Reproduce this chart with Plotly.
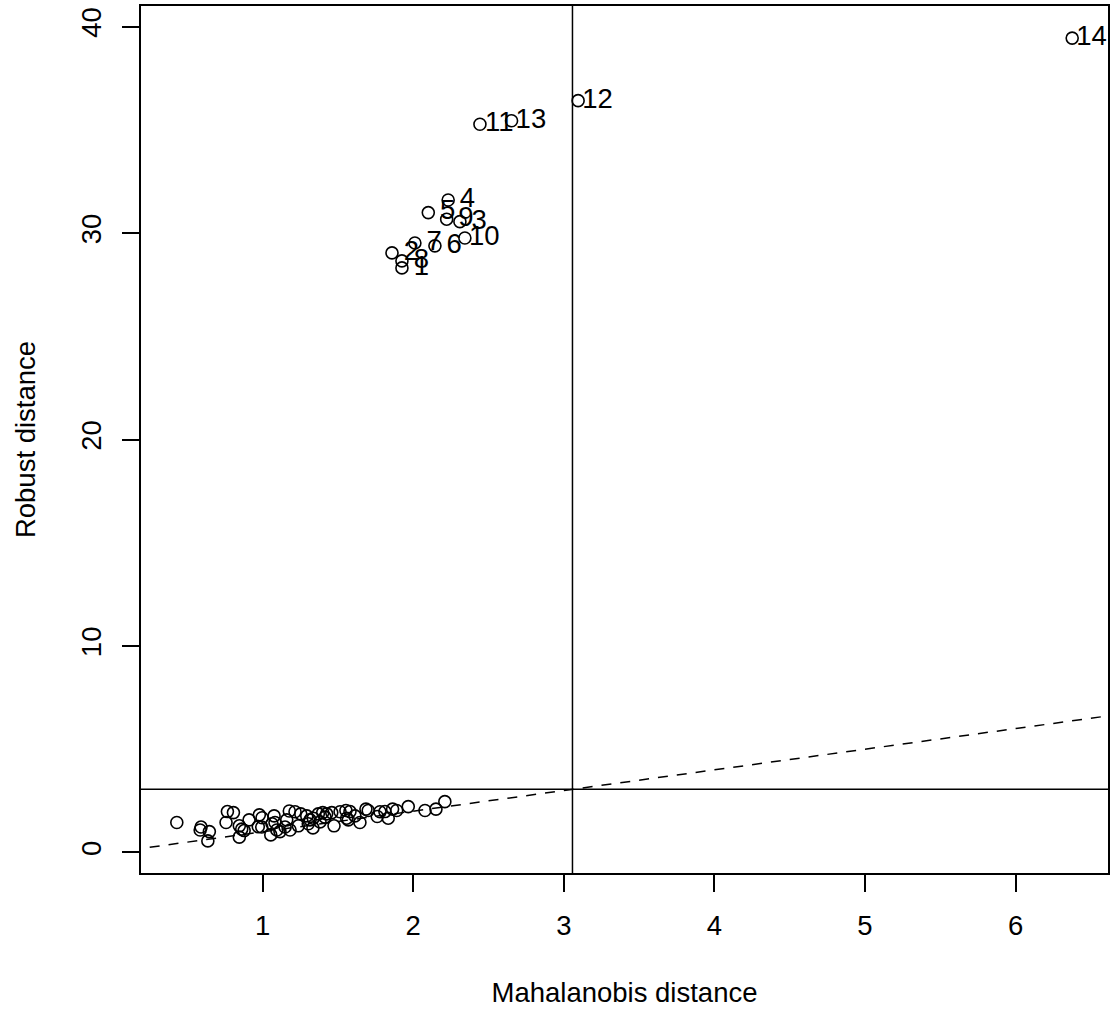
import plotly.graph_objects as go

# Mahalanobis (x) and robust (y) distances, observations 1..14 (outliers, labelled)
md_out = [1.925, 1.859, 2.310, 2.232, 2.100, 2.144, 2.011, 1.925, 2.222, 2.343,
          2.443, 3.095, 2.653, 6.376]
rd_out = [28.31, 29.04, 30.55, 31.60, 30.99, 29.38, 29.52, 28.65, 30.67, 29.76,
          35.27, 36.41, 35.44, 39.44]
labels_out = [str(i) for i in range(1, 15)]

# remaining regular observations
md_reg = [0.430, 0.591, 0.585, 0.646, 0.636, 0.766, 0.806, 0.757, 0.845, 0.861,
          0.877, 0.845, 0.978, 0.971, 0.994, 1.054, 1.076, 1.082, 1.094, 1.115,
          1.149, 1.177, 1.160, 1.237, 1.253, 1.293, 1.315, 1.303, 1.336, 1.370,
          1.399, 1.425, 1.459, 1.414, 1.474, 1.553, 1.580, 1.558, 1.569, 1.646,
          1.686, 1.701, 1.761, 1.812, 1.834, 1.863, 1.890, 1.967, 2.078, 2.151,
          2.210, 1.215, 1.381, 1.514, 1.613, 0.996, 0.910, 1.062, 1.334, 1.182,
          1.779]
rd_reg = [1.45, 1.23, 1.09, 1.01, 0.56, 1.98, 1.93, 1.45, 1.29, 1.13,
          1.06, 0.74, 1.82, 1.25, 1.23, 0.85, 1.77, 1.45, 1.09, 1.01,
          1.23, 2.01, 1.58, 1.29, 1.87, 1.77, 1.58, 1.39, 1.66, 1.87,
          1.93, 1.87, 1.93, 1.71, 1.29, 2.03, 1.98, 1.66, 1.58, 1.45,
          2.10, 2.03, 1.74, 1.98, 1.66, 2.10, 2.03, 2.22, 2.03, 2.10,
          2.46, 1.97, 1.48, 1.97, 1.77, 1.68, 1.58, 1.39, 1.19, 1.09,
          1.97]

cutoff = 3.0575  # sqrt(qchisq(0.975, 3))

x_ticks = [1, 2, 3, 4, 5, 6]
y_ticks = [0, 10, 20, 30, 40]

md_all = md_out + md_reg
rd_all = rd_out + rd_reg

# R-style axis extension (4% each side)
xr = max(md_all) - min(md_all)
yr = max(rd_all) - min(rd_all)
x_range = [min(md_all) - 0.04 * xr, max(md_all) + 0.04 * xr]
y_range = [min(rd_all) - 0.04 * yr, max(rd_all) + 0.04 * yr]
label_dx = (x_range[1] - x_range[0]) / 50

FONT = "Liberation Sans, Arial, Helvetica, sans-serif"
FS = 27.5

fig = go.Figure()

# dashed identity line
fig.add_trace(go.Scatter(x=[0, 7], y=[0, 7], mode="lines",
                         line=dict(color="black", width=1.5, dash="10px,9px"),
                         hoverinfo="skip", showlegend=False))

fig.add_trace(go.Scatter(x=md_all, y=rd_all, mode="markers",
                         marker=dict(symbol="circle-open", size=12, color="black",
                                     line=dict(color="black", width=1.6)),
                         showlegend=False))

fig.add_trace(go.Scatter(x=[m + label_dx for m in md_out], y=rd_out, mode="text",
                         text=labels_out, textposition="middle center",
                         textfont=dict(family=FONT, size=FS, color="black"),
                         cliponaxis=True, showlegend=False))

fig.add_vline(x=cutoff, line=dict(color="black", width=1.5))
fig.add_hline(y=cutoff, line=dict(color="black", width=1.5))

axis_common = dict(showgrid=False, zeroline=False, showline=True, mirror=True,
                   linecolor="black", linewidth=1.5, ticks="outside", ticklen=17,
                   tickwidth=1.5, tickcolor="black",
                   tickfont=dict(family=FONT, size=FS, color="black"))

fig.update_xaxes(range=x_range, tickmode="array", tickvals=x_ticks,
                 ticktext=[str(v) for v in x_ticks],
                 title=dict(text="Mahalanobis distance", standoff=43,
                            font=dict(family=FONT, size=FS, color="black")),
                 ticklabelstandoff=10,
                 **axis_common)
fig.update_yaxes(range=y_range, tickmode="array", tickvals=y_ticks,
                 ticktext=[str(v) for v in y_ticks], tickangle=-90,
                 title=dict(text="Robust distance", standoff=33,
                            font=dict(family=FONT, size=FS, color="black")),
                 ticklabelstandoff=10,
                 **axis_common)

fig.update_layout(width=1113, height=1011,
                  margin=dict(l=141, r=5, t=6, b=138, autoexpand=False),
                  plot_bgcolor="white", paper_bgcolor="white",
                  font=dict(family=FONT, size=FS, color="black"))

fig.write_html("out.html", config={"displayModeBar": False},
               post_script="document.body.style.margin='0px';document.body.style.overflow='hidden';")
